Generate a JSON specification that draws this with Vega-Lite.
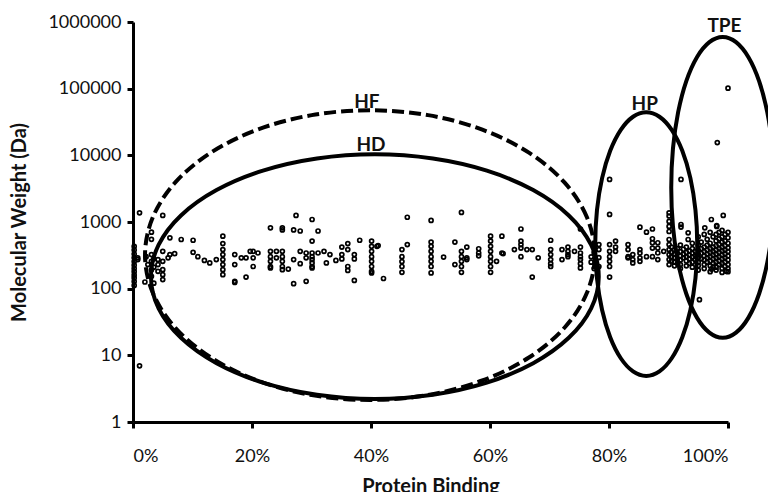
{
  "$schema": "https://vega.github.io/schema/vega-lite/v6.json",
  "autosize": {"type": "none"},
  "padding": {"left": 133, "top": 22, "right": 40, "bottom": 70},
  "width": 595,
  "height": 400,
  "config": {
    "view": {"stroke": null},
    "font": "Lato",
    "axis": {
      "grid": false,
      "domainColor": "#000",
      "domainWidth": 3,
      "tickColor": "#000",
      "tickWidth": 3,
      "tickSize": 6,
      "labelFont": "Lato",
      "labelFontSize": 18,
      "labelColor": "#111",
      "titleFont": "Lato",
      "titleFontWeight": "bold",
      "titleFontSize": 20,
      "titleColor": "#111"
    }
  },
  "datasets": {
    "pts": [
      {"binding":0.002,"mw":430},{"binding":0.002,"mw":380},{"binding":0.002,"mw":330},{"binding":0.002,"mw":290},{"binding":0.002,"mw":255},{"binding":0.002,"mw":225},{"binding":0.002,"mw":200},{"binding":0.002,"mw":180},{"binding":0.002,"mw":160},{"binding":0.002,"mw":145},{"binding":0.002,"mw":128},{"binding":0.002,"mw":112},
      {"binding":0.008,"mw":273},{"binding":0.008,"mw":290},
      {"binding":0.011,"mw":1374},{"binding":0.011,"mw":6.95},
      {"binding":0.020,"mw":126},{"binding":0.022,"mw":302},{"binding":0.025,"mw":230},
      {"binding":0.031,"mw":703},{"binding":0.031,"mw":550},{"binding":0.031,"mw":325},{"binding":0.031,"mw":257},{"binding":0.031,"mw":193},{"binding":0.031,"mw":153},
      {"binding":0.035,"mw":121},{"binding":0.035,"mw":280},{"binding":0.035,"mw":210},
      {"binding":0.042,"mw":273},{"binding":0.042,"mw":182},{"binding":0.042,"mw":230},
      {"binding":0.050,"mw":1253},{"binding":0.050,"mw":363},{"binding":0.050,"mw":257},{"binding":0.050,"mw":193},{"binding":0.050,"mw":162},{"binding":0.050,"mw":137},
      {"binding":0.059,"mw":290},{"binding":0.062,"mw":578},{"binding":0.062,"mw":325},{"binding":0.070,"mw":335},{"binding":0.081,"mw":546},
      {"binding":0.101,"mw":532},{"binding":0.101,"mw":351},{"binding":0.109,"mw":302},{"binding":0.120,"mw":265},{"binding":0.129,"mw":243},{"binding":0.140,"mw":273},
      {"binding":0.151,"mw":612},{"binding":0.151,"mw":475},{"binding":0.151,"mw":386},{"binding":0.151,"mw":325},{"binding":0.151,"mw":273},{"binding":0.151,"mw":230},{"binding":0.151,"mw":193},{"binding":0.151,"mw":162},
      {"binding":0.171,"mw":325},{"binding":0.171,"mw":230},{"binding":0.171,"mw":129},{"binding":0.171,"mw":124},
      {"binding":0.182,"mw":290},{"binding":0.190,"mw":149},{"binding":0.190,"mw":290},{"binding":0.197,"mw":363},
      {"binding":0.202,"mw":363},{"binding":0.202,"mw":290},{"binding":0.202,"mw":215},{"binding":0.210,"mw":343},
      {"binding":0.231,"mw":817},{"binding":0.231,"mw":363},{"binding":0.231,"mw":302},{"binding":0.231,"mw":257},{"binding":0.231,"mw":215},{"binding":0.231,"mw":205},
      {"binding":0.241,"mw":363},{"binding":0.241,"mw":290},
      {"binding":0.251,"mw":817},{"binding":0.251,"mw":760},{"binding":0.251,"mw":363},{"binding":0.251,"mw":302},{"binding":0.251,"mw":257},{"binding":0.251,"mw":215},{"binding":0.251,"mw":193},
      {"binding":0.261,"mw":197},{"binding":0.270,"mw":760},{"binding":0.270,"mw":273},{"binding":0.270,"mw":119},{"binding":0.274,"mw":1253},
      {"binding":0.281,"mw":733},{"binding":0.281,"mw":237},{"binding":0.281,"mw":363},
      {"binding":0.291,"mw":343},{"binding":0.291,"mw":290},{"binding":0.291,"mw":129},
      {"binding":0.301,"mw":1091},{"binding":0.301,"mw":517},{"binding":0.301,"mw":343},{"binding":0.301,"mw":302},{"binding":0.301,"mw":273},{"binding":0.301,"mw":243},{"binding":0.301,"mw":215},{"binding":0.301,"mw":205},
      {"binding":0.311,"mw":733},{"binding":0.311,"mw":343},{"binding":0.321,"mw":363},{"binding":0.325,"mw":243},{"binding":0.331,"mw":325},{"binding":0.341,"mw":265},
      {"binding":0.351,"mw":421},{"binding":0.351,"mw":325},{"binding":0.351,"mw":279},
      {"binding":0.361,"mw":475},{"binding":0.361,"mw":386},{"binding":0.361,"mw":215},{"binding":0.361,"mw":188},
      {"binding":0.372,"mw":325},{"binding":0.372,"mw":279},{"binding":0.372,"mw":133},{"binding":0.381,"mw":532},
      {"binding":0.401,"mw":517},{"binding":0.401,"mw":432},{"binding":0.401,"mw":363},{"binding":0.401,"mw":302},{"binding":0.401,"mw":257},{"binding":0.401,"mw":215},{"binding":0.401,"mw":182},{"binding":0.401,"mw":172},
      {"binding":0.410,"mw":432},{"binding":0.412,"mw":443},{"binding":0.421,"mw":142},
      {"binding":0.452,"mw":386},{"binding":0.452,"mw":302},{"binding":0.452,"mw":255},{"binding":0.452,"mw":215},{"binding":0.452,"mw":176},
      {"binding":0.461,"mw":1178},{"binding":0.461,"mw":459},
      {"binding":0.501,"mw":1055},{"binding":0.501,"mw":500},{"binding":0.501,"mw":432},{"binding":0.501,"mw":363},{"binding":0.501,"mw":302},{"binding":0.501,"mw":257},{"binding":0.501,"mw":215},{"binding":0.501,"mw":172},
      {"binding":0.522,"mw":298},{"binding":0.541,"mw":500},{"binding":0.541,"mw":230},
      {"binding":0.552,"mw":1394},{"binding":0.552,"mw":363},{"binding":0.552,"mw":302},{"binding":0.552,"mw":257},{"binding":0.552,"mw":215},{"binding":0.552,"mw":176},
      {"binding":0.561,"mw":421},{"binding":0.561,"mw":273},{"binding":0.561,"mw":290},
      {"binding":0.581,"mw":397},{"binding":0.581,"mw":343},{"binding":0.581,"mw":311},
      {"binding":0.601,"mw":612},{"binding":0.601,"mw":517},{"binding":0.601,"mw":432},{"binding":0.601,"mw":363},{"binding":0.601,"mw":302},{"binding":0.601,"mw":257},{"binding":0.601,"mw":215},{"binding":0.601,"mw":176},
      {"binding":0.611,"mw":257},{"binding":0.620,"mw":612},{"binding":0.620,"mw":343},{"binding":0.622,"mw":335},{"binding":0.641,"mw":386},
      {"binding":0.652,"mw":785},{"binding":0.652,"mw":517},{"binding":0.652,"mw":459},{"binding":0.652,"mw":407},{"binding":0.652,"mw":302},
      {"binding":0.662,"mw":386},{"binding":0.671,"mw":386},{"binding":0.671,"mw":149},{"binding":0.681,"mw":290},
      {"binding":0.702,"mw":532},{"binding":0.702,"mw":386},{"binding":0.702,"mw":325},{"binding":0.702,"mw":273},{"binding":0.702,"mw":237},{"binding":0.702,"mw":215},
      {"binding":0.721,"mw":386},{"binding":0.721,"mw":273},
      {"binding":0.731,"mw":421},{"binding":0.731,"mw":363},{"binding":0.731,"mw":302},{"binding":0.731,"mw":325},{"binding":0.742,"mw":363},
      {"binding":0.752,"mw":785},{"binding":0.752,"mw":421},{"binding":0.752,"mw":343},{"binding":0.752,"mw":302},{"binding":0.752,"mw":273},{"binding":0.752,"mw":237},{"binding":0.752,"mw":205},
      {"binding":0.770,"mw":300},{"binding":0.770,"mw":250},{"binding":0.775,"mw":350},{"binding":0.775,"mw":200},
      {"binding":0.783,"mw":459},{"binding":0.783,"mw":386},{"binding":0.783,"mw":293},{"binding":0.783,"mw":215},
      {"binding":0.801,"mw":4356},{"binding":0.801,"mw":1297},{"binding":0.801,"mw":459},{"binding":0.801,"mw":363},{"binding":0.801,"mw":302},{"binding":0.801,"mw":257},{"binding":0.801,"mw":215},{"binding":0.801,"mw":149},
      {"binding":0.811,"mw":517},{"binding":0.811,"mw":421},{"binding":0.811,"mw":363},
      {"binding":0.832,"mw":459},{"binding":0.832,"mw":386},{"binding":0.832,"mw":302},{"binding":0.832,"mw":290},
      {"binding":0.840,"mw":325},{"binding":0.840,"mw":273},{"binding":0.840,"mw":243},
      {"binding":0.852,"mw":835},{"binding":0.852,"mw":386},{"binding":0.852,"mw":343},{"binding":0.852,"mw":290},{"binding":0.852,"mw":257},
      {"binding":0.863,"mw":703},{"binding":0.863,"mw":302},
      {"binding":0.873,"mw":785},{"binding":0.873,"mw":561},{"binding":0.873,"mw":488},{"binding":0.873,"mw":407},{"binding":0.873,"mw":302},
      {"binding":0.882,"mw":488},{"binding":0.882,"mw":407},{"binding":0.882,"mw":343},{"binding":0.882,"mw":273},{"binding":0.892,"mw":363},
      {"binding":0.901,"mw":1374},{"binding":0.901,"mw":1230},{"binding":0.901,"mw":1020},{"binding":0.901,"mw":857},{"binding":0.901,"mw":720},{"binding":0.901,"mw":546},{"binding":0.901,"mw":459},{"binding":0.901,"mw":386},{"binding":0.901,"mw":325},{"binding":0.901,"mw":273},{"binding":0.901,"mw":230},
      {"binding":0.921,"mw":4356},{"binding":0.921,"mw":917},{"binding":0.921,"mw":840},
      {"binding":0.933,"mw":688},{"binding":0.933,"mw":546},{"binding":0.952,"mw":68.4},{"binding":0.961,"mw":817},
      {"binding":0.972,"mw":1091},{"binding":0.972,"mw":197},{"binding":0.981,"mw":857},{"binding":0.981,"mw":885},{"binding":0.982,"mw":15520},{"binding":0.992,"mw":1253},{"binding":0.997,"mw":182},{"binding":1.0,"mw":101800},
      {"binding":0.905,"mw":420},{"binding":0.905,"mw":350},{"binding":0.905,"mw":300},{"binding":0.905,"mw":260},
      {"binding":0.91,"mw":380},{"binding":0.91,"mw":330},{"binding":0.91,"mw":290},{"binding":0.91,"mw":250},{"binding":0.91,"mw":220},
      {"binding":0.915,"mw":400},{"binding":0.915,"mw":340},{"binding":0.915,"mw":280},{"binding":0.915,"mw":240},
      {"binding":0.92,"mw":450},{"binding":0.92,"mw":360},{"binding":0.92,"mw":310},{"binding":0.92,"mw":270},{"binding":0.92,"mw":230},{"binding":0.92,"mw":200},
      {"binding":0.925,"mw":390},{"binding":0.925,"mw":330},{"binding":0.925,"mw":290},
      {"binding":0.93,"mw":420},{"binding":0.93,"mw":350},{"binding":0.93,"mw":300},{"binding":0.93,"mw":260},{"binding":0.93,"mw":220},
      {"binding":0.935,"mw":370},{"binding":0.935,"mw":320},{"binding":0.935,"mw":280},{"binding":0.935,"mw":240},
      {"binding":0.94,"mw":480},{"binding":0.94,"mw":400},{"binding":0.94,"mw":340},{"binding":0.94,"mw":300},{"binding":0.94,"mw":250},{"binding":0.94,"mw":210},
      {"binding":0.945,"mw":360},{"binding":0.945,"mw":310},{"binding":0.945,"mw":270},
      {"binding":0.95,"mw":600},{"binding":0.95,"mw":450},{"binding":0.95,"mw":380},{"binding":0.95,"mw":330},{"binding":0.95,"mw":290},{"binding":0.95,"mw":250},{"binding":0.95,"mw":220},{"binding":0.95,"mw":190},
      {"binding":0.955,"mw":500},{"binding":0.955,"mw":400},{"binding":0.955,"mw":340},{"binding":0.955,"mw":280},
      {"binding":0.96,"mw":650},{"binding":0.96,"mw":420},{"binding":0.96,"mw":360},{"binding":0.96,"mw":310},{"binding":0.96,"mw":270},{"binding":0.96,"mw":230},{"binding":0.96,"mw":200},
      {"binding":0.965,"mw":550},{"binding":0.965,"mw":450},{"binding":0.965,"mw":380},{"binding":0.965,"mw":330},{"binding":0.965,"mw":290},{"binding":0.965,"mw":250},
      {"binding":0.97,"mw":700},{"binding":0.97,"mw":480},{"binding":0.97,"mw":400},{"binding":0.97,"mw":350},{"binding":0.97,"mw":300},{"binding":0.97,"mw":260},{"binding":0.97,"mw":220},{"binding":0.97,"mw":180},
      {"binding":0.975,"mw":600},{"binding":0.975,"mw":420},{"binding":0.975,"mw":360},{"binding":0.975,"mw":320},{"binding":0.975,"mw":280},{"binding":0.975,"mw":240},{"binding":0.975,"mw":210},
      {"binding":0.98,"mw":650},{"binding":0.98,"mw":520},{"binding":0.98,"mw":440},{"binding":0.98,"mw":380},{"binding":0.98,"mw":330},{"binding":0.98,"mw":290},{"binding":0.98,"mw":250},{"binding":0.98,"mw":210},{"binding":0.98,"mw":190},
      {"binding":0.985,"mw":700},{"binding":0.985,"mw":560},{"binding":0.985,"mw":460},{"binding":0.985,"mw":400},{"binding":0.985,"mw":350},{"binding":0.985,"mw":300},{"binding":0.985,"mw":260},{"binding":0.985,"mw":230},
      {"binding":0.99,"mw":750},{"binding":0.99,"mw":600},{"binding":0.99,"mw":500},{"binding":0.99,"mw":420},{"binding":0.99,"mw":370},{"binding":0.99,"mw":320},{"binding":0.99,"mw":280},{"binding":0.99,"mw":240},{"binding":0.99,"mw":200},{"binding":0.99,"mw":175},
      {"binding":0.995,"mw":650},{"binding":0.995,"mw":520},{"binding":0.995,"mw":440},{"binding":0.995,"mw":380},{"binding":0.995,"mw":330},{"binding":0.995,"mw":290},{"binding":0.995,"mw":250},{"binding":0.995,"mw":215},
      {"binding":1.0,"mw":700},{"binding":1.0,"mw":580},{"binding":1.0,"mw":480},{"binding":1.0,"mw":410},{"binding":1.0,"mw":360},{"binding":1.0,"mw":310},{"binding":1.0,"mw":270},{"binding":1.0,"mw":230},{"binding":1.0,"mw":200},{"binding":1.0,"mw":180}
    ],
    "ell": [
      {"e":"HD","k":0,"binding":0.7828,"mw":151.5},{"e":"HD","k":1,"binding":0.7700,"mw":452.4},{"e":"HD","k":2,"binding":0.7324,"mw":1252},{"e":"HD","k":3,"binding":0.6726,"mw":3008},{"e":"HD","k":4,"binding":0.5947,"mw":5888},{"e":"HD","k":5,"binding":0.5040,"mw":8953},{"e":"HD","k":6,"binding":0.4065,"mw":10351},{"e":"HD","k":7,"binding":0.3091,"mw":8953},{"e":"HD","k":8,"binding":0.2184,"mw":5888},{"e":"HD","k":9,"binding":0.1404,"mw":3008},{"e":"HD","k":10,"binding":0.0806,"mw":1252},{"e":"HD","k":11,"binding":0.0430,"mw":452.4},{"e":"HD","k":12,"binding":0.0302,"mw":151.5},{"e":"HD","k":13,"binding":0.0430,"mw":50.74},{"e":"HD","k":14,"binding":0.0806,"mw":18.33},{"e":"HD","k":15,"binding":0.1404,"mw":7.63},{"e":"HD","k":16,"binding":0.2184,"mw":3.90},{"e":"HD","k":17,"binding":0.3091,"mw":2.565},{"e":"HD","k":18,"binding":0.4065,"mw":2.218},{"e":"HD","k":19,"binding":0.5040,"mw":2.565},{"e":"HD","k":20,"binding":0.5947,"mw":3.90},{"e":"HD","k":21,"binding":0.6726,"mw":7.63},{"e":"HD","k":22,"binding":0.7324,"mw":18.33},{"e":"HD","k":23,"binding":0.7700,"mw":50.74},
      {"e":"HP","k":0,"binding":0.9483,"mw":467},{"e":"HP","k":1,"binding":0.9453,"mw":1517},{"e":"HP","k":2,"binding":0.9368,"mw":4549},{"e":"HP","k":3,"binding":0.9232,"mw":11680},{"e":"HP","k":4,"binding":0.9054,"mw":24100},{"e":"HP","k":5,"binding":0.8848,"mw":37920},{"e":"HP","k":6,"binding":0.8626,"mw":44320},{"e":"HP","k":7,"binding":0.8404,"mw":37920},{"e":"HP","k":8,"binding":0.8198,"mw":24100},{"e":"HP","k":9,"binding":0.8020,"mw":11680},{"e":"HP","k":10,"binding":0.7884,"mw":4549},{"e":"HP","k":11,"binding":0.7798,"mw":1517},{"e":"HP","k":12,"binding":0.7769,"mw":467},{"e":"HP","k":13,"binding":0.7798,"mw":143.7},{"e":"HP","k":14,"binding":0.7884,"mw":47.9},{"e":"HP","k":15,"binding":0.8020,"mw":18.66},{"e":"HP","k":16,"binding":0.8198,"mw":9.04},{"e":"HP","k":17,"binding":0.8404,"mw":5.745},{"e":"HP","k":18,"binding":0.8626,"mw":4.917},{"e":"HP","k":19,"binding":0.8848,"mw":5.745},{"e":"HP","k":20,"binding":0.9054,"mw":9.04},{"e":"HP","k":21,"binding":0.9232,"mw":18.66},{"e":"HP","k":22,"binding":0.9368,"mw":47.9},{"e":"HP","k":23,"binding":0.9453,"mw":143.7},
      {"e":"TPE","k":0,"binding":1.0776,"mw":3303},{"e":"TPE","k":1,"binding":1.0747,"mw":12660},{"e":"TPE","k":2,"binding":1.0660,"mw":44320},{"e":"TPE","k":3,"binding":1.0523,"mw":130000},{"e":"TPE","k":4,"binding":1.0344,"mw":296700},{"e":"TPE","k":5,"binding":1.0135,"mw":498500},{"e":"TPE","k":6,"binding":0.9911,"mw":594800},{"e":"TPE","k":7,"binding":0.9687,"mw":498500},{"e":"TPE","k":8,"binding":0.9478,"mw":296700},{"e":"TPE","k":9,"binding":0.9299,"mw":130000},{"e":"TPE","k":10,"binding":0.9162,"mw":44320},{"e":"TPE","k":11,"binding":0.9075,"mw":12660},{"e":"TPE","k":12,"binding":0.9046,"mw":3303},{"e":"TPE","k":13,"binding":0.9075,"mw":861},{"e":"TPE","k":14,"binding":0.9162,"mw":246},{"e":"TPE","k":15,"binding":0.9299,"mw":83.9},{"e":"TPE","k":16,"binding":0.9478,"mw":36.77},{"e":"TPE","k":17,"binding":0.9687,"mw":21.87},{"e":"TPE","k":18,"binding":0.9911,"mw":18.33},{"e":"TPE","k":19,"binding":1.0135,"mw":21.87},{"e":"TPE","k":20,"binding":1.0344,"mw":36.77},{"e":"TPE","k":21,"binding":1.0523,"mw":83.9},{"e":"TPE","k":22,"binding":1.0660,"mw":246},{"e":"TPE","k":23,"binding":1.0747,"mw":861}
    ],
    "hf": [
      {"e":"HF","k":0,"binding":0.7761,"mw":319},{"e":"HF","k":1,"binding":0.7631,"mw":1165},{"e":"HF","k":2,"binding":0.7255,"mw":3892},{"e":"HF","k":3,"binding":0.6654,"mw":10980},{"e":"HF","k":4,"binding":0.5871,"mw":24270},{"e":"HF","k":5,"binding":0.4959,"mw":40090},{"e":"HF","k":6,"binding":0.3981,"mw":47490},{"e":"HF","k":7,"binding":0.3004,"mw":40090},{"e":"HF","k":8,"binding":0.2091,"mw":24270},{"e":"HF","k":9,"binding":0.1309,"mw":10980},{"e":"HF","k":10,"binding":0.0707,"mw":3892},{"e":"HF","k":11,"binding":0.0331,"mw":1165},{"e":"HF","k":12,"binding":0.0202,"mw":319},{"e":"HF","k":13,"binding":0.0331,"mw":87.4},{"e":"HF","k":14,"binding":0.0707,"mw":26.14},{"e":"HF","k":15,"binding":0.1309,"mw":9.27},{"e":"HF","k":16,"binding":0.2091,"mw":4.194},{"e":"HF","k":17,"binding":0.3004,"mw":2.538},{"e":"HF","k":18,"binding":0.3981,"mw":2.142},{"e":"HF","k":19,"binding":0.4959,"mw":2.538},{"e":"HF","k":20,"binding":0.5871,"mw":4.194},{"e":"HF","k":21,"binding":0.6654,"mw":9.27},{"e":"HF","k":22,"binding":0.7255,"mw":26.14},{"e":"HF","k":23,"binding":0.7631,"mw":87.4}
    ],
    "lab": [
      {"t":"HF","binding":0.393,"mw":62500},
      {"t":"HD","binding":0.400,"mw":14100},
      {"t":"HP","binding":0.860,"mw":58400},
      {"t":"TPE","binding":0.994,"mw":860000}
    ]
  },
  "layer": [
    {
      "data": {"name": "pts"},
      "mark": {"type": "point", "shape": "circle", "filled": false, "stroke": "#000", "strokeWidth": 1.7, "size": 16, "opacity": 1},
      "encoding": {
        "x": {"field": "binding", "type": "quantitative",
              "scale": {"domain": [0, 1], "nice": false, "zero": false},
              "axis": {"values": [0, 0.2, 0.4, 0.6, 0.8, 1], "format": ".0%", "title": "Protein Binding", "labelPadding": 19, "titlePadding": 11}},
        "y": {"field": "mw", "type": "quantitative",
              "scale": {"type": "log", "domain": [1, 1000000], "nice": false},
              "axis": {"values": [1, 10, 100, 1000, 10000, 100000, 1000000], "format": "d", "title": "Molecular Weight (Da)", "labelPadding": 6, "titlePadding": 18}}
      }
    },
    {
      "data": {"name": "ell"},
      "mark": {"type": "line", "interpolate": "cardinal-closed", "stroke": "#000", "strokeWidth": 4},
      "encoding": {
        "x": {"field": "binding", "type": "quantitative"},
        "y": {"field": "mw", "type": "quantitative"},
        "detail": {"field": "e"},
        "order": {"field": "k", "type": "quantitative"}
      }
    },
    {
      "data": {"name": "hf"},
      "mark": {"type": "line", "interpolate": "cardinal-closed", "stroke": "#000", "strokeWidth": 4, "strokeDash": [12, 5]},
      "encoding": {
        "x": {"field": "binding", "type": "quantitative"},
        "y": {"field": "mw", "type": "quantitative"},
        "order": {"field": "k", "type": "quantitative"}
      }
    },
    {
      "data": {"name": "lab"},
      "mark": {"type": "text", "font": "Lato", "fontWeight": "bold", "fontSize": 19, "color": "#111", "baseline": "middle", "align": "center"},
      "encoding": {
        "x": {"field": "binding", "type": "quantitative"},
        "y": {"field": "mw", "type": "quantitative"},
        "text": {"field": "t"}
      }
    }
  ]
}
